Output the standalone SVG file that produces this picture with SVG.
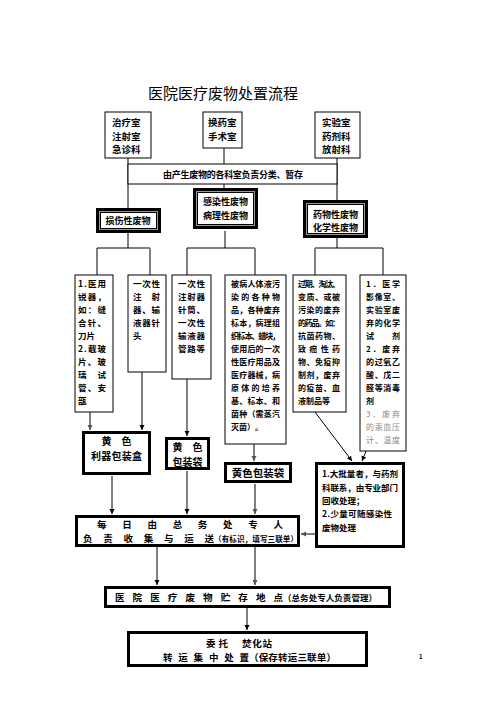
<svg xmlns="http://www.w3.org/2000/svg" width="496" height="702" viewBox="0 0 496 702">
<style>
text{font-family:"Noto Sans CJK SC","Noto Sans",sans-serif;font-weight:bold;fill:#000}
.title{font-weight:normal;font-size:15px}
.thin{fill:#fff;stroke:#000;stroke-width:1}
.thick{fill:#fff;stroke:#000;stroke-width:3}
.dbo{fill:#fff;stroke:#000;stroke-width:3}
.dbg{fill:none;stroke:#9a9a9a;stroke-width:1}
.dbi{fill:none;stroke:#000;stroke-width:1}
.ln{stroke:#000;stroke-width:1;fill:none}
.gl{stroke:#7f7f7f;stroke-width:2;fill:none}
.s8{font-size:8px}
.s85{font-size:8.5px}
.s9{font-size:9px}
.s95{font-size:9.5px}
.gray{fill:#8a8a8a;font-weight:normal}
</style>
<defs>
<marker id="ab" markerUnits="userSpaceOnUse" markerWidth="6" markerHeight="6" refX="5" refY="2.5" orient="auto"><path d="M0,0 L5,2.5 L0,5 z" fill="#000"/></marker>
<marker id="ag" markerUnits="userSpaceOnUse" markerWidth="6" markerHeight="6" refX="5" refY="2.5" orient="auto"><path d="M0,0 L5,2.5 L0,5 z" fill="#555"/></marker>
</defs>
<rect width="496" height="702" fill="#fff"/>
<text class="title" x="223" y="99" text-anchor="middle">医院医疗废物处置流程</text>

<g id="connectors">
<line class="ln" x1="128" y1="158" x2="128" y2="209"/>
<line class="gl" x1="224" y1="148" x2="224" y2="188"/>
<line class="ln" x1="337" y1="158" x2="337" y2="201"/>
<line class="ln" x1="128" y1="232" x2="128" y2="248"/>
<line class="gl" x1="225" y1="231" x2="225" y2="248"/>
<line class="ln" x1="337" y1="237" x2="337" y2="248"/>
<line class="ln" x1="97" y1="248" x2="150" y2="248"/>
<line class="ln" x1="187" y1="248" x2="255" y2="248"/>
<line class="ln" x1="315" y1="248" x2="383" y2="248"/>
<line class="ln" x1="97" y1="248" x2="97" y2="275"/>
<line class="gl" x1="150" y1="248" x2="150" y2="275"/>
<line class="ln" x1="187" y1="248" x2="187" y2="275"/>
<line class="gl" x1="255" y1="248" x2="255" y2="275"/>
<line class="gl" x1="315" y1="248" x2="315" y2="275"/>
<line class="ln" x1="383" y1="248" x2="383" y2="275"/>
<line class="gl" x1="90" y1="412" x2="90" y2="430" marker-end="url(#ag)"/>
<line class="ln" x1="142" y1="372" x2="142" y2="430" marker-end="url(#ab)"/>
<line class="ln" x1="187" y1="379" x2="187" y2="436" marker-end="url(#ab)"/>
<line class="gl" x1="254" y1="444" x2="254" y2="461" marker-end="url(#ag)"/>
<line class="ln" x1="315" y1="412" x2="352" y2="461" marker-end="url(#ab)"/>
<line class="ln" x1="383" y1="410" x2="362" y2="461" marker-end="url(#ab)"/>
<line class="ln" x1="112" y1="476" x2="112" y2="514" marker-end="url(#ab)"/>
<line class="ln" x1="187" y1="471" x2="187" y2="514" marker-end="url(#ab)"/>
<line class="gl" x1="255" y1="484" x2="255" y2="514" marker-end="url(#ag)"/>
<line class="gl" x1="315" y1="534" x2="301" y2="534" marker-end="url(#ag)"/>
<line class="ln" x1="157" y1="547" x2="157" y2="585" marker-end="url(#ab)"/>
<line class="gl" x1="255" y1="547" x2="255" y2="585" marker-end="url(#ag)"/>
<line class="ln" x1="247" y1="607" x2="247" y2="630" marker-end="url(#ab)"/>
</g>

<g id="n-treat">
<rect class="thin" x="105" y="112" width="46" height="46"/>
<text class="s95" x="112" y="125.5">治疗室</text>
<text class="s95" x="112" y="139.5">注射室</text>
<text class="s95" x="112" y="152.5">急诊科</text>
</g>
<g id="n-dress">
<rect class="thin" x="203" y="112" width="39" height="36"/>
<text class="s95" x="208" y="125.5">换药室</text>
<text class="s95" x="208" y="139.5">手术室</text>
</g>
<g id="n-lab">
<rect class="thin" x="315" y="112" width="45" height="46"/>
<text class="s95" x="322" y="125.5">实验室</text>
<text class="s95" x="322" y="139.5">药剂科</text>
<text class="s95" x="322" y="152.5">放射科</text>
</g>
<g id="n-band">
<rect class="thin" x="128" y="164" width="209" height="20"/>
<text class="s9" x="163" y="177.5" textLength="140" lengthAdjust="spacing">由产生废物的各科室负责分类、暂存</text>
</g>

<g id="n-sharp">
<rect class="dbo" x="97.5" y="209.5" width="62" height="22"/>
<rect class="dbg" x="99.5" y="211.5" width="58" height="18"/>
<rect class="dbi" x="100.5" y="212.5" width="56" height="16"/>
<text class="s9" x="128" y="224" text-anchor="middle">损伤性废物</text>
</g>
<g id="n-infect">
<rect class="dbo" x="194.5" y="189.5" width="62" height="38"/>
<rect class="dbg" x="196.5" y="191.5" width="58" height="34"/>
<rect class="dbi" x="197.5" y="192.5" width="56" height="32"/>
<text class="s9" x="225.5" y="204.5" text-anchor="middle">感染性废物</text>
<text class="s9" x="225.5" y="218.5" text-anchor="middle">病理性废物</text>
</g>
<g id="n-drug">
<rect class="dbo" x="304.5" y="201.5" width="62" height="35"/>
<rect class="dbg" x="306.5" y="203.5" width="58" height="31"/>
<rect class="dbi" x="307.5" y="204.5" width="56" height="29"/>
<text class="s9" x="335.5" y="217.5" text-anchor="middle">药物性废物</text>
<text class="s9" x="335.5" y="231" text-anchor="middle">化学性废物</text>
</g>

<g id="n-a">
<rect class="thin" x="75" y="275" width="38" height="137"/>
<text class="s85" x="78" y="287" textLength="28" lengthAdjust="spacing">1.医用</text>
<text class="s85" x="78" y="300" textLength="28" lengthAdjust="spacing">锐器，</text>
<text class="s85" x="78" y="313" textLength="28" lengthAdjust="spacing">如：缝</text>
<text class="s85" x="78" y="326" textLength="28" lengthAdjust="spacing">合针、</text>
<text class="s85" x="78" y="339">刀片</text>
<text class="s85" x="78" y="352" textLength="28" lengthAdjust="spacing">2.载玻</text>
<text class="s85" x="78" y="365" textLength="28" lengthAdjust="spacing">片、玻</text>
<text class="s85" x="78" y="378" textLength="28" lengthAdjust="spacing">璃试</text>
<text class="s85" x="78" y="391" textLength="28" lengthAdjust="spacing">管、安</text>
<text class="s85" x="78" y="404">瓿</text>
</g>
<g id="n-b">
<rect class="thin" x="128" y="275" width="38" height="97"/>
<text class="s85" x="133" y="287" textLength="27" lengthAdjust="spacing">一次性</text>
<text class="s85" x="133" y="300" textLength="27" lengthAdjust="spacing">注射</text>
<text class="s85" x="133" y="313" textLength="27" lengthAdjust="spacing">器、输</text>
<text class="s85" x="133" y="326" textLength="27" lengthAdjust="spacing">液器针</text>
<text class="s85" x="133" y="339">头</text>
</g>
<g id="n-c">
<rect class="thin" x="172" y="275" width="39" height="104"/>
<text class="s85" x="178" y="287" textLength="27" lengthAdjust="spacing">一次性</text>
<text class="s85" x="178" y="300" textLength="27" lengthAdjust="spacing">注射器</text>
<text class="s85" x="178" y="313" textLength="27" lengthAdjust="spacing">针筒、</text>
<text class="s85" x="178" y="326" textLength="27" lengthAdjust="spacing">一次性</text>
<text class="s85" x="178" y="339" textLength="27" lengthAdjust="spacing">输液器</text>
<text class="s85" x="178" y="352" textLength="27" lengthAdjust="spacing">管路等</text>
</g>
<g id="n-d">
<rect class="thin" x="225" y="275" width="61" height="169"/>
<text class="s8" x="231" y="287" textLength="49" lengthAdjust="spacing">被病人体液污</text>
<text class="s8" x="231" y="300" textLength="49" lengthAdjust="spacing">染的各种物</text>
<text class="s8" x="231" y="313" textLength="49" lengthAdjust="spacing">品，各种废弃</text>
<text class="s8" x="231" y="326" textLength="49" lengthAdjust="spacing">标本，病理组</text>
<text class="s8" x="231" y="339" textLength="49" lengthAdjust="spacing">织标本、蜡块，</text>
<text class="s8" x="231" y="352" textLength="49" lengthAdjust="spacing">使用后的一次</text>
<text class="s8" x="231" y="365" textLength="49" lengthAdjust="spacing">性医疗用品及</text>
<text class="s8" x="231" y="378" textLength="49" lengthAdjust="spacing">医疗器械，病</text>
<text class="s8" x="231" y="391" textLength="49" lengthAdjust="spacing">原体的培养</text>
<text class="s8" x="231" y="404" textLength="49" lengthAdjust="spacing">基、标本、和</text>
<text class="s8" x="231" y="417" textLength="49" lengthAdjust="spacing">菌种（需蒸汽</text>
<text class="s8" x="231" y="430">灭菌）。</text>
</g>
<g id="n-e">
<rect class="thin" x="293" y="275" width="53" height="137"/>
<text class="s8" x="298" y="287" textLength="42" lengthAdjust="spacing">过期、淘汰、</text>
<text class="s8" x="298" y="300" textLength="42" lengthAdjust="spacing">变质、或被</text>
<text class="s8" x="298" y="313" textLength="42" lengthAdjust="spacing">污染的废弃</text>
<text class="s8" x="298" y="326" textLength="42" lengthAdjust="spacing">的药品。如：</text>
<text class="s8" x="298" y="339" textLength="42" lengthAdjust="spacing">抗菌药物、</text>
<text class="s8" x="298" y="352" textLength="42" lengthAdjust="spacing">致癌性药</text>
<text class="s8" x="298" y="365" textLength="42" lengthAdjust="spacing">物、免疫抑</text>
<text class="s8" x="298" y="378" textLength="42" lengthAdjust="spacing">制剂，废弃</text>
<text class="s8" x="298" y="391" textLength="42" lengthAdjust="spacing">的疫苗、血</text>
<text class="s8" x="298" y="404">液制品等</text>
</g>
<g id="n-f">
<rect class="thin" x="360" y="275" width="46" height="176"/>
<text class="s8" x="366" y="287" textLength="34" lengthAdjust="spacing">1．医学</text>
<text class="s8" x="366" y="300" textLength="34" lengthAdjust="spacing">影像室、</text>
<text class="s8" x="366" y="313" textLength="34" lengthAdjust="spacing">实验室废</text>
<text class="s8" x="366" y="326" textLength="34" lengthAdjust="spacing">弃的化学</text>
<text class="s8" x="366" y="339" textLength="34" lengthAdjust="spacing">试剂</text>
<text class="s8" x="366" y="352" textLength="34" lengthAdjust="spacing">2．废弃</text>
<text class="s8" x="366" y="365" textLength="34" lengthAdjust="spacing">的过氧乙</text>
<text class="s8" x="366" y="378" textLength="34" lengthAdjust="spacing">酸、戊二</text>
<text class="s8" x="366" y="391" textLength="34" lengthAdjust="spacing">醛等消毒</text>
<text class="s8" x="366" y="404">剂</text>
<text class="s8 gray" x="366" y="417" textLength="34" lengthAdjust="spacing">3．废弃</text>
<text class="s8 gray" x="366" y="430" textLength="34" lengthAdjust="spacing">的汞血压</text>
<text class="s8 gray" x="366" y="443" textLength="34" lengthAdjust="spacing">计、温度</text>
</g>

<g id="n-sharpbox">
<rect class="thick" x="83.5" y="432.5" width="66" height="41"/>
<text x="116.5" y="445" font-size="10" text-anchor="middle">黄　色</text>
<text x="116.5" y="460" font-size="10" text-anchor="middle" textLength="51" lengthAdjust="spacing">利器包装盒</text>
</g>
<g id="n-bag1">
<rect class="thick" x="166.5" y="438.5" width="42" height="30"/>
<text x="187.5" y="451" font-size="10" text-anchor="middle">黄　色</text>
<text x="187.5" y="465.5" font-size="10" text-anchor="middle">包装袋</text>
</g>
<g id="n-bag2">
<rect class="thick" x="225.5" y="463.5" width="65" height="18"/>
<text x="258" y="476.5" font-size="10.5" text-anchor="middle">黄色包装袋</text>
</g>
<g id="n-dispose">
<rect class="thick" x="316.5" y="463.5" width="87" height="83"/>
<text class="s85" x="322" y="476.5" textLength="76" lengthAdjust="spacing">1.大批量者，与药剂</text>
<text class="s85" x="322" y="490.5" textLength="76" lengthAdjust="spacing">科联系，由专业部门</text>
<text class="s85" x="322" y="504">回收处理；</text>
<text class="s85" x="322" y="517" textLength="70" lengthAdjust="spacing">2.少量可随感染性</text>
<text class="s85" x="322" y="530.5">废物处理</text>
</g>
<g id="n-collect">
<rect class="thick" x="76.5" y="516.5" width="222" height="29"/>
<text x="97" y="528" font-size="9.5" textLength="186" lengthAdjust="spacing">每日由总务处专人</text>
<text x="83" y="541.5" font-size="9.5" textLength="131" lengthAdjust="spacing">负责收集与运送</text>
<text x="214" y="541.5" font-size="7.5" textLength="84" lengthAdjust="spacing">（有标识，填写三联单）</text>
</g>
<g id="n-store">
<rect class="thick" x="105.5" y="587.5" width="284" height="19"/>
<text x="115" y="600.5" font-size="9.5" textLength="168" lengthAdjust="spacing">医院医疗废物贮存地点</text>
<text x="283" y="600.5" font-size="8.5" textLength="94" lengthAdjust="spacing">（总务处专人负责管理）</text>
</g>
<g id="n-incin">
<rect class="thick" x="128.5" y="632.5" width="238" height="33"/>
<text x="206" y="646.5" font-size="9.5" textLength="22" lengthAdjust="spacing">委托</text>
<text x="242" y="646.5" font-size="9.5" textLength="30" lengthAdjust="spacing">焚化站</text>
<text x="163" y="660.5" font-size="9.5" textLength="86" lengthAdjust="spacing">转运集中处置</text>
<text x="249" y="660.5" font-size="9.5" textLength="87" lengthAdjust="spacing">（保存转运三联单）</text>
</g>
<text x="419" y="659" font-size="6" font-weight="normal" fill="#444">1</text>
</svg>
